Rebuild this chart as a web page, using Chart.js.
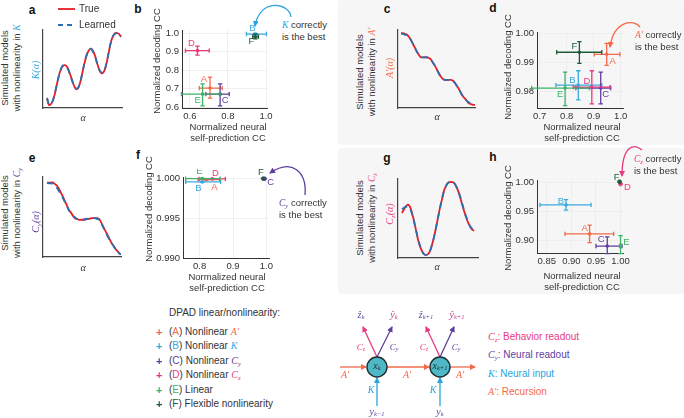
<!DOCTYPE html>
<html><head><meta charset="utf-8">
<script src="https://cdn.jsdelivr.net/npm/chart.js@4.4.1/dist/chart.umd.min.js"></script>
<style>
html,body{margin:0;padding:0;background:#fff;}
body{width:684px;height:418px;position:relative;overflow:hidden;font-family:"Liberation Sans",Arial,sans-serif;color:#333;}
.bg{position:absolute;background:#f6f6f6;border-radius:3px;}
canvas{position:absolute;}
.t{position:absolute;white-space:nowrap;font-size:9.5px;line-height:12px;}
.rot{transform:translate(-50%,-50%) rotate(-90deg);text-align:center;}
.ctr{transform:translate(-50%,-50%);text-align:center;}
.lv{transform:translateY(-50%);}
.lbl{font-weight:bold;font-size:12px;color:#111;}
.m{font-family:"Liberation Serif","DejaVu Serif",serif;font-style:italic;}
sub{font-size:70%;vertical-align:-0.25em;line-height:0;}
svg{position:absolute;left:0;top:0;}
</style></head>
<body>
<div class="bg" style="left:338px;top:0;width:346px;height:145px"></div>
<div class="bg" style="left:338px;top:148px;width:346px;height:146px"></div>

<canvas id="ca" width="85" height="84" style="left:40px;top:27px"></canvas>
<canvas id="cc" width="83" height="84" style="left:395px;top:27px"></canvas>
<canvas id="ce" width="84" height="86" style="left:40px;top:174px"></canvas>
<canvas id="cg" width="86" height="85" style="left:395px;top:176px"></canvas>
<canvas id="cb"></canvas>
<canvas id="cd"></canvas>
<canvas id="cf"></canvas>
<canvas id="ch"></canvas>

<!-- panel letters -->
<div class="t lbl ctr" style="left:32px;top:10px">a</div>
<div class="t lbl ctr" style="left:138px;top:9px">b</div>
<div class="t lbl ctr" style="left:387px;top:9px">c</div>
<div class="t lbl ctr" style="left:493px;top:8px">d</div>
<div class="t lbl ctr" style="left:32px;top:158px">e</div>
<div class="t lbl ctr" style="left:138px;top:155px">f</div>
<div class="t lbl ctr" style="left:387px;top:158px">g</div>
<div class="t lbl ctr" style="left:493px;top:157px">h</div>

<!-- row labels -->
<div class="t rot" style="left:11px;top:68px">Simulated models<br>with nonlinearity in <span class="m" style="color:#3aa9df">K</span></div>
<div class="t rot" style="left:366px;top:72px">Simulated models<br>with nonlinearity in <span class="m" style="color:#f26a4a">A'</span></div>
<div class="t rot" style="left:11px;top:213px">Simulated models<br>with nonlinearity in <span class="m" style="color:#5f3d9e">C<sub>y</sub></span></div>
<div class="t rot" style="left:366px;top:218px">Simulated models<br>with nonlinearity in <span class="m" style="color:#e9397f">C<sub>z</sub></span></div>

<!-- curve axis labels -->
<div class="t rot m" style="left:36px;top:70px;color:#3aa9df;font-size:10px">K(α)</div>
<div class="t rot m" style="left:390px;top:68px;color:#f26a4a;font-size:10px">A'(α)</div>
<div class="t rot m" style="left:36px;top:222px;color:#5f3d9e;font-size:10px">C<sub>y</sub>(α)</div>
<div class="t rot m" style="left:390px;top:214px;color:#e9397f;font-size:10px">C<sub>z</sub>(α)</div>
<div class="t ctr m" style="left:83px;top:118px;font-size:10px">α</div>
<div class="t ctr m" style="left:437px;top:117px;font-size:10px">α</div>
<div class="t ctr m" style="left:83px;top:268px;font-size:10px">α</div>
<div class="t ctr m" style="left:437px;top:267px;font-size:10px">α</div>

<!-- True / Learned legend -->
<div class="t lv" style="left:79px;top:9px;font-size:10px">True</div>
<div class="t lv" style="left:79px;top:25px;font-size:10px">Learned</div>

<!-- scatter axis titles -->
<div class="t rot" style="left:157px;top:61px">Normalized decoding CC</div>
<div class="t rot" style="left:508px;top:67px">Normalized decoding CC</div>
<div class="t rot" style="left:149px;top:209px">Normalized decoding CC</div>
<div class="t rot" style="left:508px;top:218px">Normalized decoding CC</div>
<div class="t ctr" style="left:228px;top:132px;line-height:11px">Normalized neural<br>self-prediction CC</div>
<div class="t ctr" style="left:582px;top:132px;line-height:11px">Normalized neural<br>self-prediction CC</div>
<div class="t ctr" style="left:227px;top:282px;line-height:11px">Normalized neural<br>self-prediction CC</div>
<div class="t ctr" style="left:582px;top:281px;line-height:11px">Normalized neural<br>self-prediction CC</div>

<!-- annotations -->
<div class="t" style="left:282px;top:19px;line-height:12px"><span class="m" style="color:#2aa5dd">K</span> correctly<br>is the best</div>
<div class="t" style="left:635px;top:29px;line-height:12px"><span class="m" style="color:#f26a4a">A'</span> correctly<br>is the best</div>
<div class="t" style="left:279px;top:197px;line-height:12px"><span class="m" style="color:#5f3d9e">C<sub>y</sub></span> correctly<br>is the best</div>
<div class="t" style="left:634px;top:153px;line-height:12px"><span class="m" style="color:#e9397f">C<sub>z</sub></span> correctly<br>is the best</div>

<!-- DPAD legend -->
<div class="t lv" style="left:169px;top:313px;font-size:10px">DPAD linear/nonlinearity:</div>
<div id="leg"></div>

<!-- diagram legend -->
<div class="t lv" style="left:488px;top:337px;font-size:10px;color:#e9397f"><span class="m">C<sub>z</sub></span>: Behavior readout</div>
<div class="t lv" style="left:488px;top:355px;font-size:10px;color:#5f3d9e"><span class="m">C<sub>y</sub></span>: Neural readout</div>
<div class="t lv" style="left:488px;top:374px;font-size:10px;color:#2aa5dd"><span class="m">K</span>: Neural input</div>
<div class="t lv" style="left:488px;top:392px;font-size:10px;color:#f26a4a"><span class="m">A'</span>: Recursion</div>

<svg width="684" height="418" viewBox="0 0 684 418">
<defs>
<marker id="mb" markerWidth="6" markerHeight="6" refX="5" refY="3" orient="auto" markerUnits="userSpaceOnUse"><path d="M0,0 L6,3 L0,6 z" fill="#2aa5dd"/></marker>
<marker id="mo" markerWidth="6" markerHeight="6" refX="5" refY="3" orient="auto" markerUnits="userSpaceOnUse"><path d="M0,0 L6,3 L0,6 z" fill="#f26a4a"/></marker>
<marker id="mp" markerWidth="6" markerHeight="6" refX="5" refY="3" orient="auto" markerUnits="userSpaceOnUse"><path d="M0,0 L6,3 L0,6 z" fill="#5f3d9e"/></marker>
<marker id="mk" markerWidth="6" markerHeight="6" refX="5" refY="3" orient="auto" markerUnits="userSpaceOnUse"><path d="M0,0 L6,3 L0,6 z" fill="#e9397f"/></marker>
</defs>
<!-- legend lines -->
<line x1="58" y1="9" x2="75" y2="9" stroke="#e41f26" stroke-width="1.8"/>
<line x1="58" y1="25" x2="75" y2="25" stroke="#2670b5" stroke-width="1.8" stroke-dasharray="5,4"/>
<!-- annotation arrows -->
<path d="M291,17 C290,3 260,-3 255,26" fill="none" stroke="#2aa5dd" stroke-width="1.3" marker-end="url(#mb)"/>
<path d="M640,27 C634,19 614,20 610,47" fill="none" stroke="#f26a4a" stroke-width="1.3" marker-end="url(#mo)"/>
<path d="M305,195 C307,172 292,158 270,173" fill="none" stroke="#5f3d9e" stroke-width="1.3" marker-end="url(#mp)"/>
<path d="M642,150 C632,142 622,148 622,176" fill="none" stroke="#e9397f" stroke-width="1.3" marker-end="url(#mk)"/>
<!-- diagram -->
<g stroke-width="1.3" fill="none">
<path d="M340,367 L366,367" stroke="#f26a4a" marker-end="url(#mo)"/>
<path d="M387,367 L429,367" stroke="#f26a4a" marker-end="url(#mo)"/>
<path d="M450,367 L475,367" stroke="#f26a4a" marker-end="url(#mo)"/>
<path d="M377,406 L377,378" stroke="#2aa5dd" marker-end="url(#mb)"/>
<path d="M440,406 L440,378" stroke="#2aa5dd" marker-end="url(#mb)"/>
<path d="M377,357 L363,327" stroke="#e9397f" marker-end="url(#mk)"/>
<path d="M377,357 L392,327" stroke="#5f3d9e" marker-end="url(#mp)"/>
<path d="M440,357 L426,327" stroke="#e9397f" marker-end="url(#mk)"/>
<path d="M440,357 L454,327" stroke="#5f3d9e" marker-end="url(#mp)"/>
</g>
<circle cx="377" cy="367" r="10" fill="#4fb7c5" stroke="#1c2e33" stroke-width="1.4"/>
<circle cx="440" cy="367" r="10" fill="#4fb7c5" stroke="#1c2e33" stroke-width="1.4"/>
<g font-family="Liberation Serif, DejaVu Serif, serif" font-style="italic" text-anchor="middle" dominant-baseline="middle">
<text x="377" y="367" font-size="10" fill="#1c2e33">x<tspan font-size="6.5" dy="2">k</tspan></text>
<text x="440" y="367" font-size="10" fill="#1c2e33">x<tspan font-size="6.5" dy="2">k+1</tspan></text>
<text x="345" y="376" font-size="10" fill="#f26a4a">A'</text>
<text x="407" y="376" font-size="10" fill="#f26a4a">A'</text>
<text x="460" y="376" font-size="10" fill="#f26a4a">A'</text>
<text x="371" y="391" font-size="10" fill="#2aa5dd">K</text>
<text x="433" y="391" font-size="10" fill="#2aa5dd">K</text>
<text x="377" y="413" font-size="10" fill="#5f3d9e">y<tspan font-size="6.5" dy="2">k−1</tspan></text>
<text x="440" y="413" font-size="10" fill="#5f3d9e">y<tspan font-size="6.5" dy="2">k</tspan></text>
<text x="361" y="348" font-size="9" fill="#e9397f">C<tspan font-size="6" dy="2">z</tspan></text>
<text x="394" y="348" font-size="9" fill="#5f3d9e">C<tspan font-size="6" dy="2">y</tspan></text>
<text x="424" y="348" font-size="9" fill="#e9397f">C<tspan font-size="6" dy="2">z</tspan></text>
<text x="456" y="348" font-size="9" fill="#5f3d9e">C<tspan font-size="6" dy="2">y</tspan></text>
<text x="361" y="316" font-size="10" fill="#5a4aa8">ẑ<tspan font-size="6.5" dy="2">k</tspan></text>
<text x="394" y="316" font-size="10" fill="#c93c8c">ŷ<tspan font-size="6.5" dy="2">k</tspan></text>
<text x="426" y="316" font-size="10" fill="#5a4aa8">ẑ<tspan font-size="6.5" dy="2">k+1</tspan></text>
<text x="457" y="316" font-size="10" fill="#c93c8c">ŷ<tspan font-size="6.5" dy="2">k+1</tspan></text>
</g>
</svg>

<script>
// ---------- data ----------
const names = ['A','B','C','D','E','F'];
const legendNames = ['Nonlinear <span class="m" style="color:#f26a4a">A\'</span>','Nonlinear <span class="m" style="color:#3aa9df">K</span>','Nonlinear <span class="m" style="color:#5f3d9e">C<sub>y</sub></span>','Nonlinear <span class="m" style="color:#e9397f">C<sub>z</sub></span>','Linear','Flexible nonlinearity'];
const colors = ['#f26a4a','#3aa9df','#5f3d9e','#e9397f','#3fb268','#1d5a36'];

// simulated curves (True vs Learned), sampled along alpha
const aTrue    = [0.12,0.04,0.05,0.10,0.19,0.31,0.42,0.50,0.54,0.55,0.53,0.47,0.40,0.32,0.26,0.24,0.28,0.37,0.49,0.60,0.69,0.74,0.76,0.73,0.67,0.58,0.50,0.45,0.45,0.50,0.60,0.73,0.85,0.92,0.96,0.96,0.95,0.91];
const aLearned = [0.13,0.05,0.05,0.10,0.20,0.31,0.42,0.50,0.55,0.55,0.52,0.47,0.39,0.32,0.26,0.25,0.28,0.37,0.49,0.61,0.69,0.74,0.76,0.72,0.66,0.58,0.50,0.46,0.45,0.50,0.61,0.73,0.85,0.92,0.95,0.96,0.95,0.92];
const cTrue    = [0.96,0.96,0.95,0.94,0.91,0.87,0.82,0.77,0.72,0.68,0.65,0.65,0.65,0.65,0.64,0.62,0.58,0.54,0.49,0.44,0.40,0.37,0.36,0.36,0.36,0.36,0.35,0.32,0.28,0.24,0.19,0.15,0.12,0.09,0.06,0.05,0.04,0.04];
const cLearned = [0.95,0.95,0.94,0.93,0.91,0.87,0.82,0.77,0.72,0.68,0.66,0.65,0.65,0.65,0.64,0.62,0.58,0.54,0.49,0.44,0.40,0.37,0.36,0.36,0.36,0.36,0.35,0.32,0.28,0.24,0.19,0.15,0.12,0.09,0.07,0.05,0.04,0.04];
const eTrue    = [0.94,0.94,0.94,0.94,0.92,0.90,0.86,0.81,0.76,0.70,0.65,0.59,0.56,0.52,0.49,0.48,0.47,0.47,0.47,0.47,0.48,0.48,0.49,0.49,0.49,0.49,0.48,0.44,0.39,0.34,0.29,0.24,0.19,0.15,0.11,0.08,0.05,0.03];
const eLearned = [0.94,0.93,0.93,0.92,0.90,0.87,0.83,0.79,0.74,0.69,0.64,0.59,0.55,0.52,0.50,0.48,0.47,0.47,0.47,0.48,0.48,0.49,0.49,0.49,0.49,0.48,0.47,0.43,0.38,0.33,0.28,0.23,0.19,0.15,0.11,0.08,0.05,0.03];
const gTrue    = [0.57,0.62,0.66,0.68,0.65,0.57,0.47,0.35,0.23,0.14,0.08,0.04,0.03,0.04,0.08,0.16,0.26,0.38,0.51,0.64,0.75,0.86,0.92,0.96,0.97,0.97,0.96,0.92,0.86,0.78,0.69,0.60,0.52,0.45,0.40,0.36,0.34];
const gLearned = [0.62,0.64,0.65,0.66,0.63,0.56,0.46,0.35,0.24,0.15,0.08,0.04,0.03,0.04,0.08,0.16,0.26,0.38,0.51,0.63,0.75,0.85,0.92,0.96,0.97,0.97,0.96,0.92,0.86,0.79,0.70,0.61,0.53,0.46,0.40,0.37,0.35];

// panel b (nonlinearity in K): order A..F
const bSelf   = [0.706,0.944,0.759,0.640,0.667,0.944];
const bSelfLo = [0.650,0.897,0.684,0.577,0.556,0.930];
const bSelfHi = [0.770,1.002,0.807,0.702,0.759,0.960];
const bDec    = [0.703,0.996,0.670,0.906,0.670,0.982];
const bDecLo  = [0.649,0.990,0.607,0.882,0.607,0.970];
const bDecHi  = [0.762,0.999,0.726,0.931,0.726,0.995];
const bXTicks = [0.6,0.8,1.0];
const bYTicks = [0.6,0.7,0.8,0.9,1.0];

// panel d (nonlinearity in A')
const dSelf   = [0.948,0.843,0.926,0.893,0.794,0.847];
const dSelfLo = [0.902,0.760,0.834,0.824,0.670,0.763];
const dSelfHi = [0.997,0.930,0.963,0.960,0.884,0.930];
const dDec    = [0.9928,0.9823,0.9813,0.9816,0.9813,0.9935];
const dDecLo  = [0.9890,0.9773,0.9759,0.9759,0.9753,0.9897];
const dDecHi  = [0.9965,0.9872,0.9867,0.9872,0.9867,0.9971];
const dXTicks = [0.7,0.8,0.9,1.0];
const dYTicks = [0.98,0.99,1.00];

// panel f (nonlinearity in Cy)
const fSelf   = [0.820,0.808,0.995,0.838,0.808,0.990];
const fSelfLo = [0.795,0.758,0.994,0.798,0.758,0.989];
const fSelfHi = [0.860,0.863,0.996,0.877,0.861,0.991];
const fDec    = [0.99987,0.99958,0.99998,0.99996,1.00000,1.00000];
const fDecLo  = [0.99982,0.99952,0.99995,0.99991,0.99995,0.99996];
const fDecHi  = [0.99992,0.99964,1.00001,1.00001,1.00005,1.00004];
const fXTicks = [0.8,0.9,1.0];
const fYTicks = [0.990,0.995,1.000];

// panel h (nonlinearity in Cz)
const hSelf   = [0.937,0.889,0.973,1.000,1.000,0.998];
const hSelfLo = [0.887,0.836,0.950,0.999,0.998,0.997];
const hSelfHi = [0.986,0.940,1.003,1.001,1.002,0.999];
const hDec    = [0.911,0.961,0.890,0.997,0.890,1.001];
const hDecLo  = [0.896,0.952,0.877,0.996,0.877,1.000];
const hDecHi  = [0.926,0.970,0.906,0.998,0.908,1.002];
const hXTicks = [0.85,0.90,0.95,1.00];
const hYTicks = [0.90,0.95,1.00];

// ---------- legend ----------
const leg = document.getElementById('leg');
names.forEach((n,i)=>{
  const y = 332 + i*14.4;
  leg.insertAdjacentHTML('beforeend',
    `<div class="t lv" style="left:156px;top:${y}px;font-size:11px;color:${colors[i]};font-weight:bold">+</div>`+
    `<div class="t lv" style="left:169px;top:${y}px;font-size:10px">(<span style="color:${colors[i]}">${n}</span>) ${legendNames[i]}</div>`);
});

// ---------- line panels ----------
function lineChart(id, tr, le, xMin, xMax, yMin, yMax){
  const toPts = arr => arr.map((v,i)=>({x:i,y:v}));
  new Chart(document.getElementById(id), {
    type:'line',
    data:{datasets:[
      {data:toPts(tr), order:1, borderColor:'#e41f26', borderWidth:1.8, pointRadius:0, tension:0.4, fill:false},
      {data:toPts(le), order:0, borderColor:'#2670b5', borderWidth:1.8, borderDash:[6,5], pointRadius:0, tension:0.4, fill:false}
    ]},
    options:{
      responsive:false, animation:false, devicePixelRatio:1,
      layout:{padding:3},
      plugins:{legend:{display:false}, tooltip:{enabled:false}},
      scales:{
        x:{type:'linear', min:xMin, max:xMax, grid:{display:false}, ticks:{display:false},
           border:{display:true,color:'#444',width:1.2},
           afterFit(s){s.height=0;s.paddingLeft=0;s.paddingRight=0;}},
        y:{type:'linear', min:yMin, max:yMax, grid:{display:false}, ticks:{display:false},
           border:{display:true,color:'#444',width:1.2},
           afterFit(s){s.width=0;s.paddingTop=0;s.paddingBottom=0;}}
      }
    }
  });
}
lineChart('ca', aTrue, aLearned, -2, 37.5, 0, 1);
lineChart('cc', cTrue, cLearned, -1.5, 37, 0, 1);
lineChart('ce', eTrue, eLearned, -2, 37, 0, 1.01);
lineChart('cg', gTrue, gLearned, -2, 38, -0.01, 1.01);

// ---------- scatter panels ----------
const errPlugin = {
  id:'errbars',
  afterDatasetsDraw(chart){
    const o = chart.options.plugins.errbars;
    const xs = chart.scales.x, ys = chart.scales.y, ctx = chart.ctx;
    ctx.save();
    ctx.lineWidth = 1.3;
    o.self.forEach((_,i)=>{
      ctx.strokeStyle = colors[i];
      const cx = xs.getPixelForValue(o.self[i]), cy = ys.getPixelForValue(o.dec[i]);
      const x0 = xs.getPixelForValue(o.selfLo[i]), x1 = xs.getPixelForValue(o.selfHi[i]);
      const y0 = ys.getPixelForValue(o.decLo[i]), y1 = ys.getPixelForValue(o.decHi[i]);
      const c = 2.2;
      ctx.beginPath();
      ctx.moveTo(x0,cy); ctx.lineTo(x1,cy);
      ctx.moveTo(x0,cy-c); ctx.lineTo(x0,cy+c);
      ctx.moveTo(x1,cy-c); ctx.lineTo(x1,cy+c);
      ctx.moveTo(cx,y0); ctx.lineTo(cx,y1);
      ctx.moveTo(cx-c,y0); ctx.lineTo(cx+c,y0);
      ctx.moveTo(cx-c,y1); ctx.lineTo(cx+c,y1);
      ctx.stroke();
    });
    ctx.font = '9.5px "Liberation Sans", Arial, sans-serif';
    ctx.textAlign = 'center'; ctx.textBaseline = 'middle';
    o.self.forEach((_,i)=>{
      const cx = xs.getPixelForValue(o.self[i]), cy = ys.getPixelForValue(o.dec[i]);
      const off = o.off[i];
      ctx.fillStyle = colors[i];
      ctx.fillText(names[i], cx+off[0], cy+off[1]);
    });
    ctx.restore();
  }
};

function scatter(id, area, xr, yr, xt, yt, xd, yd, self, selfLo, selfHi, dec, decLo, decHi, off){
  const cv = document.getElementById(id);
  const padL = 40, padT = 8, padR = 14, padB = 16;
  const w = area.r - area.l + padL + padR, h = area.b - area.t + padT + padB;
  cv.width = w; cv.height = h;
  cv.style.left = (area.l - padL) + 'px'; cv.style.top = (area.t - padT) + 'px';
  new Chart(cv, {
    type:'scatter',
    data:{datasets: names.map((n,i)=>({label:n, data:[{x:self[i], y:dec[i]}], pointRadius:1.8, pointBackgroundColor:colors[i], pointBorderWidth:0}))},
    options:{
      responsive:false, animation:false, devicePixelRatio:1,
      layout:{padding:{top:padT,right:padR,left:0,bottom:0}},
      plugins:{legend:{display:false}, tooltip:{enabled:false},
        errbars:{self, selfLo, selfHi, dec, decLo, decHi, off}},
      scales:{
        x:{type:'linear', min:xr[0], max:xr[1],
           afterBuildTicks(s){s.ticks = xt.map(v=>({value:v}));},
           ticks:{callback:v=>Number(v).toFixed(xd), color:'#333', padding:3, maxRotation:0,
                  font:{size:9.5, family:'"Liberation Sans", Arial, sans-serif'}},
           grid:{color:'#ececec', lineWidth:0.8, drawTicks:false},
           border:{display:true,color:'#333',width:1},
           afterFit(s){s.height=padB;s.paddingLeft=0;s.paddingRight=0;}},
        y:{type:'linear', min:yr[0], max:yr[1],
           afterBuildTicks(s){s.ticks = yt.map(v=>({value:v}));},
           ticks:{callback:v=>Number(v).toFixed(yd), color:'#333', padding:3,
                  font:{size:9.5, family:'"Liberation Sans", Arial, sans-serif'}},
           grid:{color:'#ececec', lineWidth:0.8, drawTicks:false},
           border:{display:true,color:'#333',width:1},
           afterFit(s){s.width=padL;s.paddingTop=0;s.paddingBottom=0;}}
      }
    },
    plugins:[errPlugin]
  });
}

scatter('cb', {l:182,t:30,r:267,b:108}, [0.559,1.005], [0.595,1.018], bXTicks, bYTicks, 1, 1,
  bSelf,bSelfLo,bSelfHi,bDec,bDecLo,bDecHi,
  [[-6,-9],[-3,-6],[5,6],[-6,-7],[-5,6],[-4,5]]);
scatter('cd', {l:537,t:32,r:623,b:108}, [0.69,1.0085], [0.9745,1.0004], dXTicks, dYTicks, 1, 2,
  dSelf,dSelfLo,dSelfHi,dDec,dDecLo,dDecHi,
  [[6,7],[-6,-5],[5,6],[-5,-6],[-5,6],[-5,-6]]);
scatter('cf', {l:183,t:177,r:269,b:258}, [0.75,1.008], [0.990,1.0002], fXTicks, fYTicks, 1, 3,
  fSelf,fSelfLo,fSelfHi,fDec,fDecLo,fDecHi,
  [[8,8],[-4,6],[6,4],[3,-6],[-3,-7],[-2,-6]]);
scatter('ch', {l:537,t:180,r:623,b:253}, [0.83,1.005], [0.878,1.004], hXTicks, hYTicks, 2, 2,
  hSelf,hSelfLo,hSelfHi,hDec,hDecLo,hDecHi,
  [[-5,-6],[-5,-4],[-6,-7],[7,3],[6,-4],[-3,-4]]);
</script>
</body></html>
